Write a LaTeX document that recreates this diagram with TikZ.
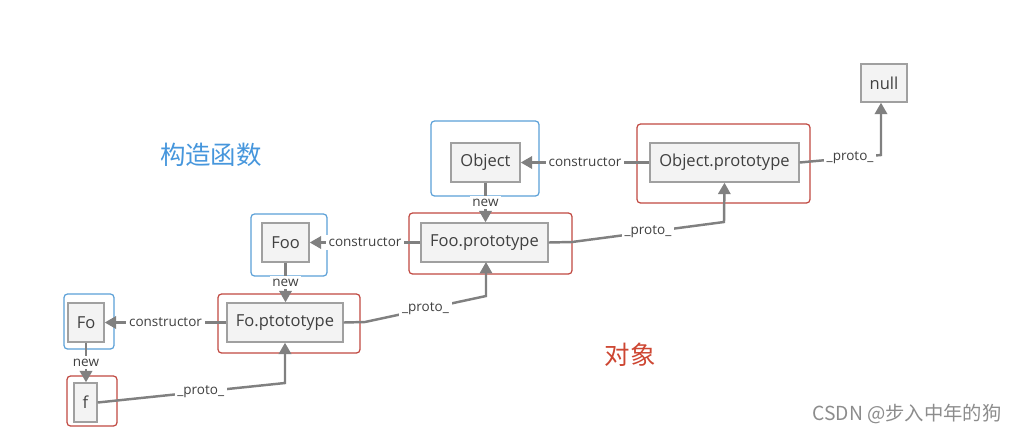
\documentclass[tikz,border=0pt]{standalone}
\usepackage{fontspec}
\setmainfont{Open Sans}
\newfontfamily\cjk{Noto Sans CJK SC}
\usetikzlibrary{arrows.meta,positioning}
\definecolor{boxgray}{RGB}{160,160,160}
\definecolor{boxfill}{RGB}{243,243,243}
\definecolor{arrgray}{RGB}{128,128,128}
\definecolor{txtgray}{RGB}{64,64,64}
\definecolor{frameblue}{RGB}{91,160,215}
\definecolor{framered}{RGB}{192,72,64}
\definecolor{cnblue}{RGB}{70,150,220}
\definecolor{cnred}{RGB}{205,70,50}

\begin{document}
\begin{tikzpicture}[x=0.02cm, y=-0.02cm]
  \tikzstyle{obox} = [rectangle, draw=boxgray, fill=boxfill, line width=0.8pt, inner sep=0pt,
                      minimum height=0.78cm, text=txtgray, font=\fontsize{9.4}{11}\selectfont]
  \tikzstyle{bframe} = [draw=frameblue, line width=0.7pt, rounded corners=2pt]
  \tikzstyle{rframe} = [draw=framered, line width=0.7pt, rounded corners=2pt]
  \tikzstyle{arr} = [-{Triangle[length=6.5pt,width=7pt]}, line width=1.4pt, draw=arrgray]
  \tikzstyle{lbl} = [fill=white, inner sep=1.5pt, text=txtgray, font=\fontsize{7.7}{9}\selectfont]
  \useasboundingbox (0,0) rectangle (1019,434);

  % frames
  \draw[bframe] (431,121) rectangle (539,196);
  \draw[rframe] (637,124) rectangle (810,203);
  \draw[bframe] (251,214) rectangle (327,276);
  \draw[rframe] (409,213) rectangle (572,274);
  \draw[bframe] (64,294) rectangle (114,349);
  \draw[rframe] (218,294) rectangle (360,353);
  \draw[rframe] (67,376) rectangle (117,426);

  % objects
  \node[obox, minimum width=1.38cm] (obj) at (485.5,162.5) {Object};
  \node[obox, minimum width=2.98cm] (objp) at (724.5,162.5) {Object.prototype};
  \node[obox, minimum width=0.92cm, minimum height=0.76cm] (null) at (884,83) {null};
  \node[obox, minimum width=0.94cm] (foo) at (285.5,242.5) {Foo};
  \node[obox, minimum width=2.54cm] (foop) at (484.5,242.5) {Foo.prototype};
  \node[obox, minimum width=0.72cm] (fo) at (86,322.5) {Fo};
  \node[obox, minimum width=2.32cm] (fop) at (285,322.5) {Fo.ptototype};
  \node[obox, minimum width=0.46cm] (f) at (85.5,402.5) {f};

  % constructor
  \draw[arr] (objp.west) -- node[lbl] {constructor} (obj.east);
  \draw[arr] (foop.west) -- node[lbl] {constructor} (foo.east);
  \draw[arr] (fop.west) -- node[lbl] {constructor} (fo.east);

  % new
  \draw[arr] (obj.south) -- node[lbl] {new} (obj.south |- foop.north);
  \draw[arr] (foo.south) -- node[lbl] {new} (foo.south |- fop.north);
  \draw[arr] (fo.south) -- node[lbl] {new} (fo.south |- f.north);

  % proto chain
  \draw[arr] (f.east) -- node[lbl, pos=0.55] {\_proto\_} (285,383) -- (fop.south);
  \draw[arr] (fop.east) -- (365,322) -- node[lbl] {\_proto\_} (486,296) -- (486,262);
  \draw[arr] (foop.east) -- (572,242) -- node[lbl] {\_proto\_} (724,222) -- (objp.south);
  \coordinate (nc) at (881,155);
  \draw[arr] (objp.east) -- node[lbl, pos=0.62] {\_proto\_} (nc) -- (nc |- null.south);

  \node[font=\cjk\fontsize{14.5}{16}\selectfont, text=cnblue] (ctor) at (211,155) {构造函数};
  \node[font=\cjk\fontsize{14.5}{16}\selectfont, text=cnred] (inst) at (630,355) {对象};
  \node[font=\cjk\fontsize{11}{12}\selectfont, text=gray!90] (mark) at (907,414) {CSDN @步入中年的狗};
\end{tikzpicture}
\end{document}
